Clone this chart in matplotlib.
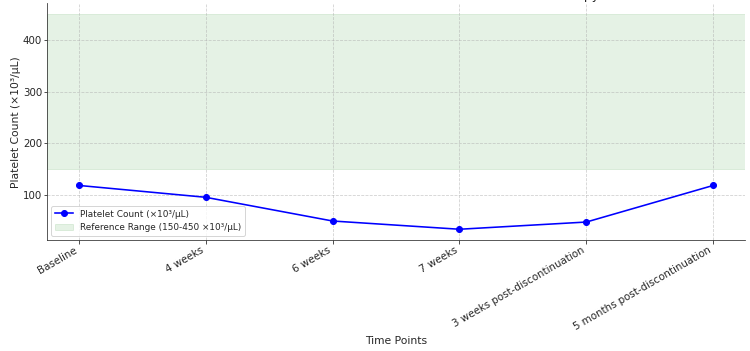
import matplotlib
matplotlib.use("Agg")
from matplotlib import pyplot as plt

time_points = ["Baseline", "4 weeks", "6 weeks", "7 weeks",
               "3 weeks post-discontinuation", "5 months post-discontinuation"]
platelets = [118, 95, 49, 33, 47, 118]
ref_low = 150
ref_high = 450

plt.rcParams['font.size'] = 10.7
plt.rcParams['text.color'] = '#262626'
plt.rcParams['axes.labelcolor'] = '#262626'
plt.rcParams['xtick.color'] = '#262626'
plt.rcParams['ytick.color'] = '#262626'
plt.rcParams['axes.edgecolor'] = '#333333'

fig = plt.figure(figsize=(750 / 72, 351 / 72), dpi=72)
ax = fig.add_axes([47 / 750, 111 / 351, 698 / 750, 236.5 / 351])

ax.plot(time_points, platelets, marker='o', color='blue', linewidth=1.6,
        label='Platelet Count (×10³/μL)')
ax.axhspan(ref_low, ref_high, color='green', alpha=0.1, label='Reference Range (150-450 ×10³/μL)')

ax.set_title("Platelet Count Trend Before and After Discontinuation of Therapy", pad=4.5, fontsize=12.45)
ax.set_xlabel("Time Points")
ax.set_ylabel("Platelet Count (×10³/μL)", labelpad=2)
ax.grid(True, linestyle='--', alpha=0.6)
ax.spines['top'].set_visible(False)
ax.spines['right'].set_visible(False)
ax.tick_params(axis='both', labelsize=10.3, pad=1.5)
plt.setp(ax.get_xticklabels(), rotation=30, ha='right')
ax.legend(loc='lower left', fontsize=8.9)

fig.savefig("out.png", dpi=72)
